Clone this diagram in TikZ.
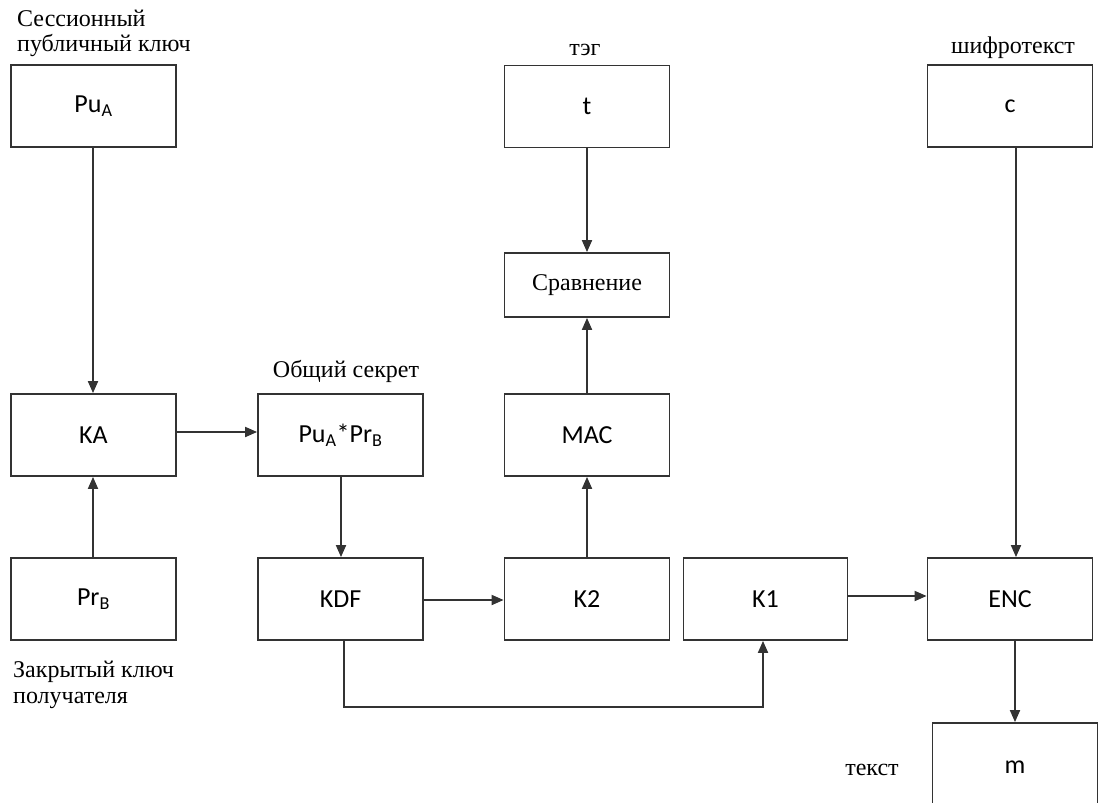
\documentclass[tikz,border=0pt]{standalone}
\usepackage{fontspec}
\setmainfont{Liberation Serif}
\newfontfamily\boxfont{Carlito}
\usetikzlibrary{arrows.meta}
\tikzset{
  blk/.style={draw=black!80, line width=1.8pt, minimum width=165pt, minimum height=82pt, inner sep=0pt, font=\boxfont\fontsize{26}{30}\selectfont},
  conn/.style={draw=black!80, line width=1.8pt, -{Triangle[length=12pt,width=10pt]}},
  lbl/.style={inner sep=0pt, font=\fontsize{24}{28}\selectfont}
}
\begin{document}
\begin{tikzpicture}[x=1pt,y=1pt]
\useasboundingbox (0,0) rectangle (1104,-803);
% boxes
\node[blk] (PuA) at (93.5,-106) {Pu\textsubscript{A}};
\node[blk] (KA) at (93.5,-435) {KA};
\node[blk] (PrB) at (93.5,-599) {Pr\textsubscript{B}};
\node[blk] (PP) at (340.5,-435) {Pu\textsubscript{A}*Pr\textsubscript{B}};
\node[blk] (KDF) at (340.5,-599) {KDF};
\node[blk] (t) at (587,-106.5) {t};
\node[blk, minimum height=64pt, font=\fontsize{24}{28}\selectfont] (Cmp) at (587,-285) {Сравнение};
\node[blk] (MAC) at (587,-435) {MAC};
\node[blk] (K2) at (587,-599) {K2};
\node[blk, minimum width=164pt] (K1) at (765.5,-599) {K1};
\node[blk] (c) at (1010,-106) {c};
\node[blk] (ENC) at (1010,-599) {ENC};
\node[blk, minimum height=88pt] (m) at (1015,-767) {m};
% labels
\node[lbl, anchor=base west] (l1) at (17,-27) {Сессионный};
\node[lbl, anchor=base west] (l2) at (17,-51) {публичный ключ};
\node[lbl, anchor=base] (l3) at (346,-377) {Общий секрет};
\node[lbl, anchor=base west] (l4) at (13,-677) {Закрытый ключ};
\node[lbl, anchor=base west] (l5) at (13,-703) {получателя};
\node[lbl, anchor=base] (l6) at (585,-55) {тэг};
\node[lbl, anchor=base] (l7) at (1013,-53) {шифротекст};
\node[lbl, anchor=base] (l8) at (872,-775) {текст};
% connectors
\draw[conn] (PuA.south -| 93,0) -- (KA.north -| 93,0);
\draw[conn] (PrB.north -| 93,0) -- (KA.south -| 93,0);
\draw[conn] (KA.east |- 0,-432) -- (PP.west |- 0,-432);
\draw[conn] (PP.south -| 341,0) -- (KDF.north -| 341,0);
\draw[conn] (KDF.east |- 0,-600) -- (K2.west |- 0,-600);
\draw[conn] (K2.north) -- (MAC.south);
\draw[conn] (MAC.north) -- (Cmp.south);
\draw[conn] (t.south) -- (Cmp.north);
\draw[conn] (c.south -| 1016,0) -- (ENC.north -| 1016,0);
\draw[conn] (K1.east |- 0,-596) -- (ENC.west |- 0,-596);
\draw[conn] (ENC.south -| 1015,0) -- (m.north -| 1015,0);
\draw[conn] (KDF.south -| 344,0) -- (344,-707) -- (763,-707) -- (K1.south -| 763,0);
\end{tikzpicture}
\end{document}
